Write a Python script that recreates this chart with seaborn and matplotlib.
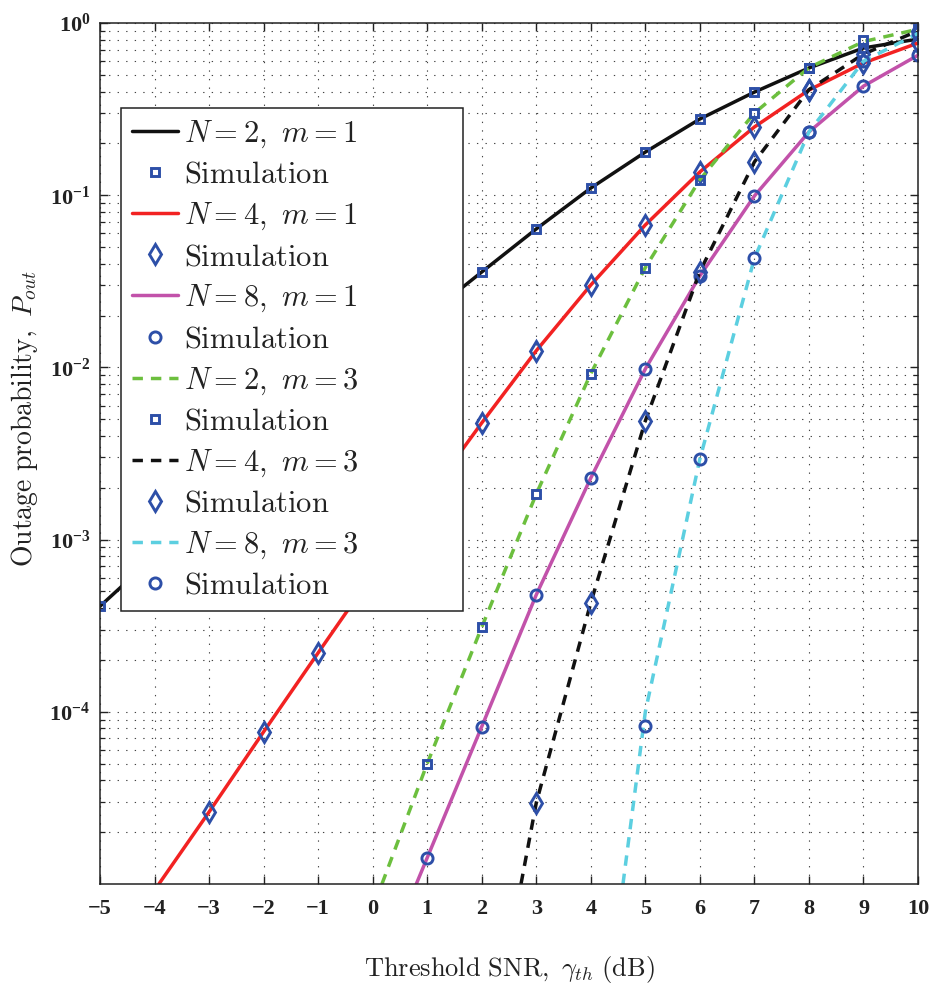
import matplotlib
matplotlib.use("Agg")
import matplotlib.pyplot as plt
import seaborn as sns
from matplotlib.ticker import FixedLocator, FixedFormatter, LogLocator, NullFormatter

# ---- analytical outage curves (SNR in dB, probability) ----
n2m1_x = [-5, -4, -3, -2, -1, 0, 1, 2, 3, 4, 5, 6, 7, 8, 9, 10]
n2m1_y = [4.1e-4, 8.0e-4, 1.53e-3, 2.99e-3, 5.77e-3, 1.09e-2, 2.0e-2, 3.58e-2,
          6.37e-2, 0.110, 0.178, 0.277, 0.397, 0.548, 0.716, 0.807]

n4m1_x = [-3.92, -3, -2, -1, 0, 1, 2, 3, 4, 5, 6, 7, 8, 9, 10]
n4m1_y = [1e-5, 2.62e-5, 7.65e-5, 2.2e-4, 6.28e-4, 1.75e-3, 4.76e-3,
          1.25e-2, 3.01e-2, 6.72e-2, 0.1365, 0.249, 0.408, 0.586, 0.765]

n8m1_x = [0.80, 1, 2, 3, 4, 5, 6, 7, 8, 9, 10]
n8m1_y = [1e-5, 1.42e-5, 8.2e-5, 4.78e-4, 2.28e-3, 9.8e-3, 0.034, 0.099,
          0.233, 0.43, 0.65]

n2m3_x = [0.17, 1, 2, 3, 4, 5, 6, 7, 8, 9, 10]
n2m3_y = [1e-5, 5.0e-5, 3.1e-4, 1.84e-3, 9.2e-3, 0.038, 0.123, 0.30, 0.55,
          0.78, 0.92]

n4m3_x = [2.72, 3, 4, 5, 6, 7, 8, 9, 10]
n4m3_y = [1e-5, 2.96e-5, 4.3e-4, 4.89e-3, 0.036, 0.156, 0.41, 0.66, 0.90]

n8m3_x = [4.59, 5, 6, 7, 8, 9, 10]
n8m3_y = [1e-5, 1.0e-4, 2.94e-3, 0.043, 0.233, 0.60, 0.87]

# ---- Monte-Carlo simulation points ----
sim_n2m1_x = n2m1_x
sim_n2m1_y = n2m1_y
sim_n4m1_x = [-3, -2, -1, 0, 1, 2, 3, 4, 5, 6, 7, 8, 9, 10]
sim_n4m1_y = [2.62e-5, 7.65e-5, 2.2e-4, 6.28e-4, 1.75e-3, 4.76e-3, 1.25e-2,
              3.01e-2, 6.72e-2, 0.1365, 0.249, 0.408, 0.586, 0.765]
sim_n8m1_x = [1, 2, 3, 4, 5, 6, 7, 8, 9, 10]
sim_n8m1_y = [1.42e-5, 8.2e-5, 4.78e-4, 2.28e-3, 9.8e-3, 0.034, 0.099,
              0.233, 0.43, 0.65]
sim_n2m3_x = [1, 2, 3, 4, 5, 6, 7, 8, 9, 10]
sim_n2m3_y = [5.0e-5, 3.1e-4, 1.84e-3, 9.2e-3, 0.038, 0.123, 0.30, 0.55,
              0.80, 0.92]
sim_n4m3_x = [3, 4, 5, 6, 7, 8, 9, 10]
sim_n4m3_y = [2.96e-5, 4.3e-4, 4.89e-3, 0.036, 0.156, 0.41, 0.66, 0.90]
sim_n8m3_x = [5, 6, 7, 8, 9, 10]
sim_n8m3_y = [8.3e-5, 2.94e-3, 0.043, 0.233, 0.60, 0.87]

labels = [r"$N=2,\ m=1$", r"$N=4,\ m=1$", r"$N=8,\ m=1$",
          r"$N=2,\ m=3$", r"$N=4,\ m=3$", r"$N=8,\ m=3$"]
sim_label = r"$\mathrm{Simulation}$"

x_ticks = [-5, -4, -3, -2, -1, 0, 1, 2, 3, 4, 5, 6, 7, 8, 9, 10]
x_ticklabels = ["\u22125", "\u22124", "\u22123", "\u22122", "\u22121", "0", "1",
                "2", "3", "4", "5", "6", "7", "8", "9", "10"]
y_ticks = [1e-4, 1e-3, 1e-2, 1e-1, 1]
y_ticklabels = [r"$10^{-4}$", r"$10^{-3}$", r"$10^{-2}$", r"$10^{-1}$", r"$10^{0}$"]

sns.set_theme(style="ticks")
plt.rcParams.update({
    "font.family": ["Liberation Serif", "DejaVu Serif"],
    "mathtext.fontset": "custom",
    "mathtext.rm": "Liberation Serif:bold",
    "mathtext.bf": "Liberation Serif:bold",
    "mathtext.it": "Liberation Serif:bold:italic",
    "axes.linewidth": 1.1,
    "axes.edgecolor": "#222222",
    "xtick.direction": "in",
    "ytick.direction": "in",
    "xtick.top": True,
    "ytick.right": True,
    "xtick.color": "#222222",
    "ytick.color": "#222222",
})

fig = plt.figure(figsize=(9.32, 9.86), dpi=100)
ax = fig.add_axes([100 / 932, 1 - 884 / 986, 818 / 932, 861 / 986])

marker_blue = "#2d4fa8"
series = [
    (n2m1_x, n2m1_y, "#111111", "-", sim_n2m1_x, sim_n2m1_y, "s", 5.8),
    (n4m1_x, n4m1_y, "#f22222", "-", sim_n4m1_x, sim_n4m1_y, "d", 10.5),
    (n8m1_x, n8m1_y, "#c252aa", "-", sim_n8m1_x, sim_n8m1_y, "o", 8.0),
    (n2m3_x, n2m3_y, "#6cbf3e", "--", sim_n2m3_x, sim_n2m3_y, "s", 5.8),
    (n4m3_x, n4m3_y, "#111111", "--", sim_n4m3_x, sim_n4m3_y, "d", 10.5),
    (n8m3_x, n8m3_y, "#5ccfe0", "--", sim_n8m3_x, sim_n8m3_y, "o", 8.0),
]

handles, names = [], []
for (cx, cy, col, ls, sx, sy, mk, ms), lab in zip(series, labels):
    sns.lineplot(x=cx, y=cy, ax=ax, color=col, linewidth=2.5,
                 sort=False, estimator=None, legend=False)
    line = ax.lines[-1]
    if ls == "--":
        line.set_dashes([3.0, 2.3])
    sns.lineplot(x=sx, y=sy, ax=ax, color=marker_blue, linestyle="none",
                 marker=mk, markersize=ms, markerfacecolor="none",
                 markeredgecolor=marker_blue, markeredgewidth=2.1,
                 sort=False, estimator=None, legend=False)
    handles += [line, ax.lines[-1]]
    names += [lab, sim_label]

ax.set_yscale("log")
ax.set_xlim(-5, 10)
ax.set_ylim(1e-5, 1)

ax.xaxis.set_major_locator(FixedLocator(x_ticks))
ax.xaxis.set_major_formatter(FixedFormatter(x_ticklabels))
ax.yaxis.set_major_locator(FixedLocator(y_ticks))
ax.yaxis.set_major_formatter(FixedFormatter(y_ticklabels))
ax.yaxis.set_minor_locator(LogLocator(base=10, subs=range(2, 10), numticks=20))
ax.yaxis.set_minor_formatter(NullFormatter())

ax.tick_params(axis="both", which="major", length=6, width=1.0)
ax.tick_params(axis="y", which="minor", length=3.5, width=0.9)
ax.tick_params(axis="x", which="major", pad=11, labelsize=16)
ax.tick_params(axis="y", which="major", pad=7, labelsize=16)
for t in ax.get_xticklabels():
    t.set_fontweight("bold")

grid_style = dict(linestyle=(0, (1.2, 6.5)), color="#444444", linewidth=0.8)
ax.grid(True, which="major", axis="both", **grid_style)
ax.grid(True, which="minor", axis="y", **grid_style)
ax.set_axisbelow(True)

ax.set_xlabel(r"$\mathrm{Threshold\ SNR,}\ \gamma_{th}\ \mathrm{(dB)}$",
              fontsize=19, math_fontfamily="cm", color="#222222")
ax.set_ylabel(r"$\mathrm{Outage\ probability,}\ P_{out}$",
              fontsize=20, math_fontfamily="cm", color="#222222")
ax.xaxis.set_label_coords(0.5, -0.081)
ax.yaxis.set_label_coords(-0.073, 0.54)

legend_left = 21 / 818
legend_top = (884 - 108) / 861
legend_width = (463 - 121) / 818
leg = ax.legend(handles, names, loc="upper left",
                bbox_to_anchor=(legend_left, legend_top - 0.6, legend_width, 0.6),
                mode="expand",
                fontsize=22, frameon=True, fancybox=False, framealpha=1,
                edgecolor="#222222", handlelength=1.5, handletextpad=0.2,
                labelspacing=0.355, borderpad=0.35, borderaxespad=0,
                numpoints=1)
leg.get_frame().set_linewidth(1.1)
for t in leg.get_texts():
    t.set_math_fontfamily("cm")
    t.set_color("#222222")

fig.savefig("out.png", dpi=100)
